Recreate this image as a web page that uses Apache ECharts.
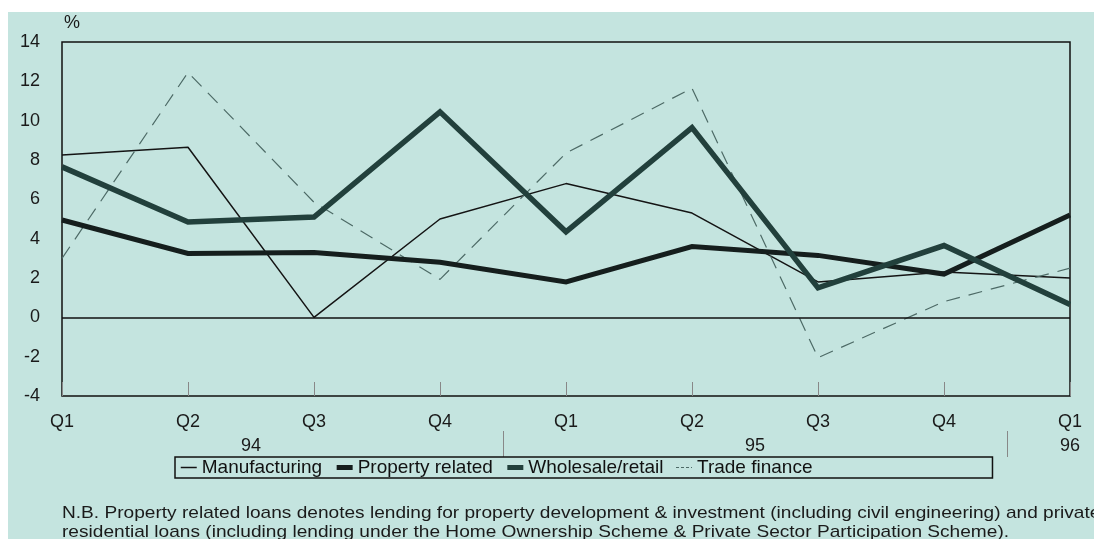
<!DOCTYPE html>
<html>
<head>
<meta charset="utf-8">
<script src="https://cdn.jsdelivr.net/npm/echarts@6/dist/echarts.min.js"></script>
<style>
html,body{margin:0;padding:0;background:#fff;}
#chart{width:1094px;height:539px;}
</style>
</head>
<body>
<div id="chart"></div>
<script>
var quarters = ['Q1','Q2','Q3','Q4','Q1','Q2','Q3','Q4','Q1'];
var yearLabels = {'1.5':'94','5.5':'95','8':'96'};
var yearLabelPos = [1.5, 5.5, 8];
var yearSeparators = [3.5, 7.5];
var manufacturing = [8.25, 8.65, 0, 5.0, 6.8, 5.3, 1.8, 2.3, 2.0];
var propertyRelated = [4.95, 3.25, 3.3, 2.8, 1.8, 3.6, 3.15, 2.2, 5.2];
var wholesaleRetail = [7.65, 4.85, 5.1, 10.45, 4.35, 9.65, 1.5, 3.65, 0.65];
var tradeFinance = [3.0, 12.45, 5.85, 1.93, 8.35, 11.65, -2.05, 0.8, 2.5];
var footnote1 = 'N.B. Property related loans denotes lending for property development & investment (including civil engineering) and private';
var footnote2 = 'residential loans (including lending under the Home Ownership Scheme & Private Sector Participation Scheme).';

var FONT = '"Liberation Sans", Arial, sans-serif';
var chart = echarts.init(document.getElementById('chart'), null, {renderer:'canvas'});
chart.setOption({
  backgroundColor: '#ffffff',
  animation: false,
  textStyle: {fontFamily: FONT, color: '#1a1a1a'},
  graphic: [{
    type: 'rect', z: -100, silent: true,
    shape: {x: 8, y: 12, width: 1086, height: 527},
    style: {fill: '#c4e4df'}
  }, {
    type: 'text', silent: true, x: 62, y: 506, scaleX: 1.18,
    style: {text: footnote1, fill: '#1a1a1a', font: '16.2px ' + FONT}
  }, {
    type: 'text', silent: true, x: 62, y: 525, scaleX: 1.18,
    style: {text: footnote2, fill: '#1a1a1a', font: '16.2px ' + FONT}
  }],
  grid: {
    left: 62, right: 24, top: 42, bottom: 143,
    show: true, borderColor: '#111', borderWidth: 1.5, backgroundColor: 'transparent'
  },
  legend: {
    left: 175, top: 457,
    orient: 'horizontal',
    borderColor: '#111', borderWidth: 1.5,
    padding: [1, 180, 1, 5],
    itemWidth: 16, itemHeight: 14, itemGap: 12,
    itemStyle: {opacity: 0},
    textStyle: {fontFamily: FONT, fontSize: 19, color: '#111'},
    data: [
      {name: 'Manufacturing', lineStyle: {width: 1.5}},
      {name: 'Property related', lineStyle: {width: 5}},
      {name: 'Wholesale/retail', lineStyle: {width: 5}},
      {name: 'Trade finance', lineStyle: {width: 1, type: [3, 2]}}
    ]
  },
  xAxis: [{
    type: 'category',
    data: quarters,
    boundaryGap: false,
    axisLine: {show: false, onZero: false},
    axisTick: {show: true, inside: true, length: 14, lineStyle: {color: '#888', width: 1}},
    axisLabel: {fontSize: 18, color: '#1a1a1a', margin: 17, fontFamily: FONT},
    splitLine: {show: false}
  }, {
    type: 'value',
    min: 0, max: 8,
    position: 'bottom',
    offset: 35,
    axisLine: {show: false, onZero: false},
    splitLine: {show: false},
    axisTick: {show: true, customValues: yearSeparators, length: 26, lineStyle: {color: '#888', width: 1}},
    axisLabel: {
      customValues: yearLabelPos, fontSize: 18, color: '#1a1a1a', margin: 6, fontFamily: FONT,
      formatter: function (v) { return yearLabels[String(v)] || ''; }
    }
  }],
  yAxis: {
    type: 'value',
    min: -4, max: 14, interval: 2,
    name: '%',
    nameLocation: 'end',
    nameGap: 10,
    nameTextStyle: {fontSize: 18, color: '#1a1a1a', align: 'left', padding: [0, 0, 0, 2], fontFamily: FONT},
    axisLine: {show: false},
    axisTick: {show: false},
    splitLine: {show: false},
    axisLabel: {fontSize: 18, color: '#1a1a1a', margin: 22, fontFamily: FONT}
  },
  series: [{
    name: 'Manufacturing', type: 'line', data: manufacturing, xAxisIndex: 0,
    symbol: 'none', lineStyle: {color: '#141414', width: 1.5}, itemStyle: {color: '#141414'},
    markLine: {
      silent: true, symbol: 'none', label: {show: false},
      lineStyle: {color: '#111', width: 1.5, type: 'solid'},
      data: [{yAxis: 0}]
    }
  }, {
    name: 'Trade finance', type: 'line', data: tradeFinance, xAxisIndex: 0,
    symbol: 'none', lineStyle: {color: '#4d6a66', width: 1.2, type: [14, 9]}, itemStyle: {color: '#4d6a66'}
  }, {
    name: 'Property related', type: 'line', data: propertyRelated, xAxisIndex: 0,
    symbol: 'none', lineStyle: {color: '#151e1d', width: 5, join: 'miter'}, itemStyle: {color: '#151e1d'}
  }, {
    name: 'Wholesale/retail', type: 'line', data: wholesaleRetail, xAxisIndex: 0,
    symbol: 'none', lineStyle: {color: '#22403c', width: 5.5, join: 'miter'}, itemStyle: {color: '#22403c'}
  }]
});
</script>
</body>
</html>
